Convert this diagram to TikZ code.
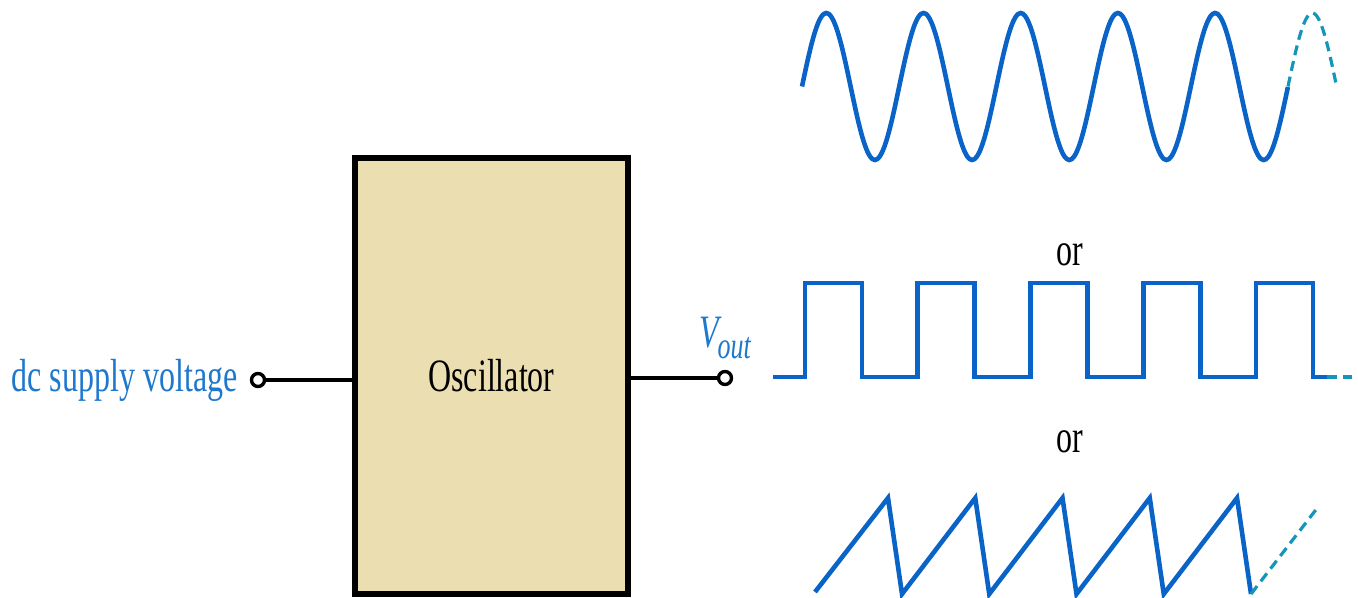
\documentclass[tikz,border=0pt]{standalone}
\usepackage{fontspec}
\setmainfont{Liberation Serif}
\usetikzlibrary{calc, positioning}
\definecolor{boxfill}{RGB}{235, 223, 178}
\definecolor{sigblue}{RGB}{10, 100, 200}
\definecolor{labelblue}{RGB}{30, 120, 205}
\definecolor{dashteal}{RGB}{20, 150, 185}

\newcommand{\stretchtxt}[1]{\scalebox{1}[1.45]{#1}}

\tikzset{
  wave/.style={line width=2.3pt, sigblue, line join=miter},
  wavecont/.style={line width=1.6pt, dashteal, dash pattern=on 5pt off 3pt},
  terminal/.style={circle, draw, line width=1.7pt, fill=white, minimum size=6.5pt, inner sep=0pt},
  lead/.style={line width=1.7pt},
  bigtext/.style={font=\fontsize{16}{18}\selectfont, inner sep=0pt},
}

\begin{document}
\begin{tikzpicture}[x=0.5pt, y=-0.5pt]
  \useasboundingbox (0,0) rectangle (1358,598);

  % Oscillator block
  \node[draw, line width=2.6pt, fill=boxfill, minimum width=136.5pt, minimum height=218pt,
        bigtext] (osc) at (491.5,376) {\stretchtxt{Oscillator}};

  % terminals and leads
  \node[terminal] (inTerm) at (258,380) {};
  \node[terminal] (outTerm) at (725,378) {};
  \draw[lead] (inTerm.east) -- (inTerm -| osc.west);
  \draw[lead] (outTerm -| osc.east) -- (outTerm.west);

  \node[bigtext, labelblue, left=6pt of inTerm] (supply) {\stretchtxt{dc supply voltage}};
  \node[bigtext, labelblue, above=5pt of outTerm] (vout)
    {\stretchtxt{\itshape V\kern-0.5pt\raisebox{-0.55ex}{\fontsize{13}{13}\selectfont out}}};

  % sine output
  \draw[wave] plot[domain=0:5, samples=201, smooth] ({802+97.2*\x},{86.5-73.5*sin(360*\x)});
  \draw[wavecont] plot[domain=5:5.5, samples=40, smooth] ({802+97.2*\x},{86.5-73.5*sin(360*\x)});

  \node[bigtext] (or1) at (1070,255) {\stretchtxt{or}};

  % square output
  \draw[wave] (773,377) \foreach \k in {0,...,4} {
      -- ({805+112.75*\k},377) -- ({805+112.75*\k},283)
      -- ({862+112.75*\k},283) -- ({862+112.75*\k},377) } -- (1327,377);
  \draw[wavecont] (1327,377) -- (1352,377);

  \node[bigtext] (or2) at (1070,442) {\stretchtxt{or}};

  % sawtooth output
  \draw[wave] (815,592) \foreach \k in {0,...,4} {
      -- ({888+87.25*\k},498) -- ({902+87.25*\k},594) };
  \draw[wavecont] (1251,594) -- (1318,507);
\end{tikzpicture}
\end{document}
